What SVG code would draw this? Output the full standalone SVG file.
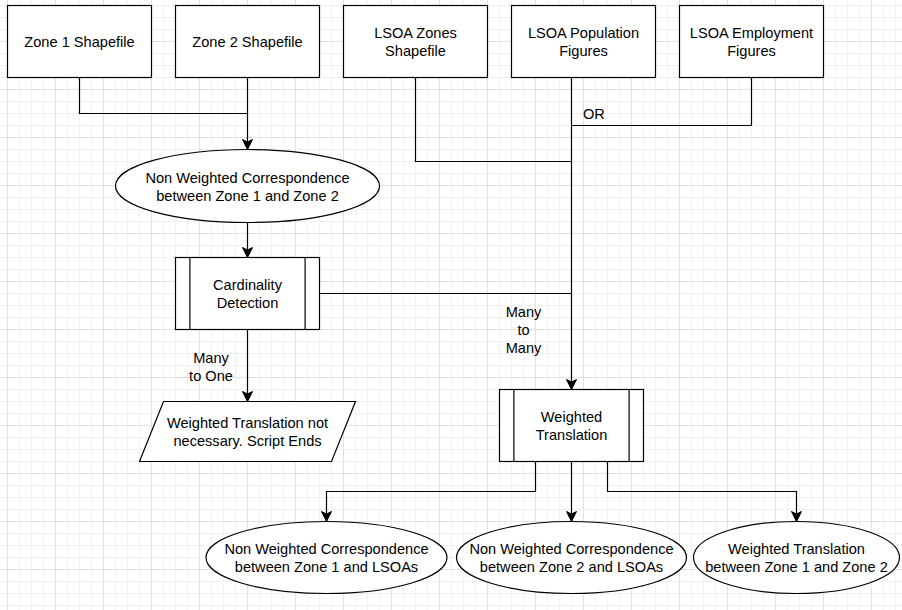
<svg xmlns="http://www.w3.org/2000/svg" width="902" height="610" viewBox="0 0 902 610">
<defs>
<pattern id="grid" x="7" y="5" width="48" height="48" patternUnits="userSpaceOnUse">
<rect x="0" y="0" width="48" height="48" fill="#ffffff"/>
<rect x="12" y="0" width="1" height="48" fill="#f1f1f1"/>
<rect x="24" y="0" width="1" height="48" fill="#f1f1f1"/>
<rect x="36" y="0" width="1" height="48" fill="#f1f1f1"/>
<rect x="0" y="0" width="48" height="1" fill="#f1f1f1"/>
<rect x="0" y="12" width="48" height="1" fill="#f1f1f1"/>
<rect x="0" y="24" width="48" height="1" fill="#f1f1f1"/>
<rect x="0" y="36" width="48" height="1" fill="#e2e2e2"/>
<rect x="0" y="0" width="1" height="48" fill="#e2e2e2"/>
</pattern>
<marker id="arr" viewBox="-11 -6 12 12" refX="0" refY="0" markerWidth="12" markerHeight="12" markerUnits="userSpaceOnUse" orient="auto">
<path d="M0,0 L-10,-5 L-7.5,0 L-10,5 Z" fill="#000000" stroke="#000000" stroke-width="1"/>
</marker>
</defs>
<style>
.shape{fill:#ffffff;stroke:#000000;stroke-width:1.2}
.inner{fill:none;stroke:#000000;stroke-width:1.2}
.edge{fill:none;stroke:#000000;stroke-width:1.2}
.arrow{marker-end:url(#arr)}
text{font-family:"Liberation Sans",Arial,sans-serif;font-size:14.6px;fill:#000000;text-anchor:middle}
.lbl{text-anchor:start}
</style>
<rect x="0" y="0" width="902" height="610" fill="url(#grid)"/>

<g id="connectors">
<polyline class="edge" points="79.5,77.5 79.5,113.5 247.5,113.5"/>
<line class="edge arrow" x1="247.5" y1="77.5" x2="247.5" y2="149.5"/>
<line class="edge arrow" x1="247.5" y1="222.5" x2="247.5" y2="257.5"/>
<polyline class="edge" points="415.5,77.5 415.5,161.5 571.5,161.5"/>
<polyline class="edge" points="751.5,77.5 751.5,125.5 571.5,125.5"/>
<line class="edge arrow" x1="571.5" y1="77.5" x2="571.5" y2="389.5"/>
<line class="edge" x1="319.5" y1="293.5" x2="571.5" y2="293.5"/>
<line class="edge arrow" x1="247.5" y1="329.5" x2="247.5" y2="401.5"/>
<polyline class="edge arrow" points="535.5,461.5 535.5,491.5 326.5,491.5 326.5,521.5"/>
<line class="edge arrow" x1="571.5" y1="461.5" x2="571.5" y2="521.5"/>
<polyline class="edge arrow" points="607.5,461.5 607.5,491.5 796.5,491.5 796.5,521.5"/>
<text class="lbl" x="583" y="119">OR</text>
<text x="523.5" y="317">Many</text>
<text x="523.5" y="335">to</text>
<text x="523.5" y="353">Many</text>
<text x="211" y="362.5">Many</text>
<text x="211" y="380.5">to One</text>
</g>

<g id="zone1-shapefile">
<rect class="shape" x="7.5" y="5.5" width="144" height="72"/>
<text x="79.5" y="47">Zone 1 Shapefile</text>
</g>
<g id="zone2-shapefile">
<rect class="shape" x="175.5" y="5.5" width="144" height="72"/>
<text x="247.5" y="47">Zone 2 Shapefile</text>
</g>
<g id="lsoa-zones-shapefile">
<rect class="shape" x="343.5" y="5.5" width="144" height="72"/>
<text x="415.5" y="38">LSOA Zones</text>
<text x="415.5" y="56">Shapefile</text>
</g>
<g id="lsoa-population">
<rect class="shape" x="511.5" y="5.5" width="144" height="72"/>
<text x="583.5" y="38">LSOA Population</text>
<text x="583.5" y="56">Figures</text>
</g>
<g id="lsoa-employment">
<rect class="shape" x="679.5" y="5.5" width="144" height="72"/>
<text x="751.5" y="38">LSOA Employment</text>
<text x="751.5" y="56">Figures</text>
</g>

<g id="nwc-zone1-zone2">
<ellipse class="shape" cx="247.5" cy="186" rx="132" ry="36.5"/>
<text x="247.5" y="182.5">Non Weighted Correspondence</text>
<text x="247.5" y="200.5">between Zone 1 and Zone 2</text>
</g>

<g id="cardinality-detection">
<rect class="shape" x="175.5" y="257.5" width="144" height="72"/>
<line class="inner" x1="189.9" y1="257.5" x2="189.9" y2="329.5"/>
<line class="inner" x1="305.1" y1="257.5" x2="305.1" y2="329.5"/>
<text x="247.5" y="290">Cardinality</text>
<text x="247.5" y="308">Detection</text>
</g>

<g id="script-ends">
<polygon class="shape" points="163.5,401.5 355.5,401.5 331.5,461.5 139.5,461.5"/>
<text x="247.5" y="427.5">Weighted Translation not</text>
<text x="247.5" y="445.5">necessary. Script Ends</text>
</g>

<g id="weighted-translation">
<rect class="shape" x="499.5" y="389.5" width="144" height="72"/>
<line class="inner" x1="513.9" y1="389.5" x2="513.9" y2="461.5"/>
<line class="inner" x1="629.1" y1="389.5" x2="629.1" y2="461.5"/>
<text x="571.5" y="422">Weighted</text>
<text x="571.5" y="440">Translation</text>
</g>

<g id="nwc-zone1-lsoas">
<ellipse class="shape" cx="326.5" cy="557.5" rx="120.5" ry="36"/>
<text x="326.5" y="554">Non Weighted Correspondence</text>
<text x="326.5" y="572">between Zone 1 and LSOAs</text>
</g>
<g id="nwc-zone2-lsoas">
<ellipse class="shape" cx="571.5" cy="557.5" rx="115" ry="36"/>
<text x="571.5" y="554">Non Weighted Correspondence</text>
<text x="571.5" y="572">between Zone 2 and LSOAs</text>
</g>
<g id="wt-zone1-zone2">
<ellipse class="shape" cx="796.5" cy="557.5" rx="103" ry="36"/>
<text x="796.5" y="554">Weighted Translation</text>
<text x="796.5" y="572">between Zone 1 and Zone 2</text>
</g>
</svg>
